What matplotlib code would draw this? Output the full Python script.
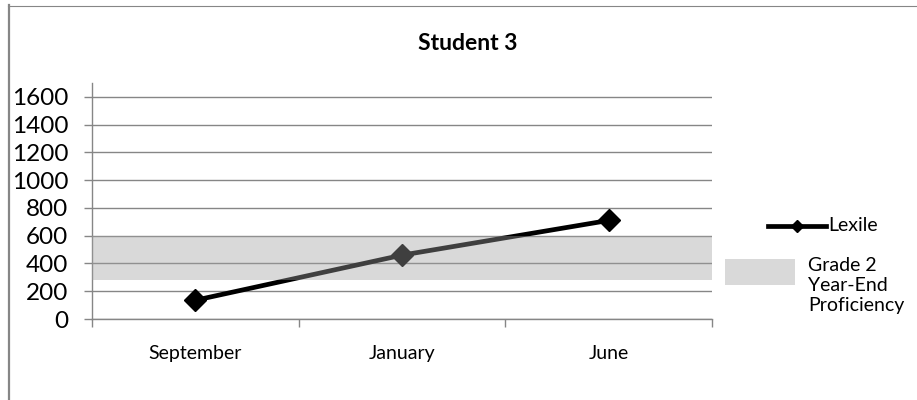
import matplotlib
matplotlib.use("Agg")
import matplotlib.pyplot as plt
from matplotlib.lines import Line2D
from matplotlib.patches import Rectangle

plt.rcParams['font.family'] = ['Lato', 'DejaVu Sans']

# Data
months = ["September", "January", "June"]
lexile = [135, 460, 710]
band_low = [280, 280, 280]
band_high = [600, 600, 600]
y_ticks = [0, 200, 400, 600, 800, 1000, 1200, 1400, 1600]

title = "Student 3"
lexile_label = "Lexile"
band_label = "Grade 2\nYear-End\nProficiency"

axis_gray = "#868686"

fig = plt.figure(figsize=(9.17, 4.0), dpi=100)
ax = fig.add_axes([92 / 917, 1 - 319 / 400, 620 / 917, 236 / 400])

x = list(range(len(months)))

# Lexile series
ax.plot(x, lexile, color="black", lw=3.4, marker="D", markersize=11,
        markerfacecolor="black", markeredgecolor="black", zorder=3,
        solid_joinstyle="round")

# Proficiency band stretched across the full category span
edge_x = [-0.5] + x + [len(months) - 0.5]
ax.fill_between(edge_x,
                [band_low[0]] + band_low + [band_low[-1]],
                [band_high[0]] + band_high + [band_high[-1]],
                color=(160 / 255, 160 / 255, 160 / 255), alpha=0.4,
                lw=0, zorder=4)

ax.set_xlim(-0.5, len(months) - 0.5)
ax.set_ylim(0, 1700)
ax.set_yticks(y_ticks)
ax.set_yticklabels([str(v) for v in y_ticks], fontsize=17.5)
ax.set_xticks([i - 0.5 for i in range(len(months) + 1)])
ax.set_xticklabels([])
ax.set_xticks(x, minor=True)
ax.set_xticklabels(months, minor=True, fontsize=14)
ax.tick_params(axis="x", which="minor", length=0, pad=19)
ax.tick_params(axis="x", which="major", length=6, width=1, color=axis_gray)
ax.tick_params(axis="y", length=6, width=1, color=axis_gray, pad=11)

ax.yaxis.grid(True, color=axis_gray, lw=1)
ax.set_axisbelow(True)
for s in ("top", "right"):
    ax.spines[s].set_visible(False)
for s in ("left", "bottom"):
    ax.spines[s].set_color(axis_gray)
    ax.spines[s].set_linewidth(1)

fig.text(468 / 917, 1 - 43 / 400, title, ha="center", va="center",
         fontsize=16.5, fontweight="bold")

# Legend drawn in figure coordinates
ly = 1 - 226 / 400
fig.add_artist(Line2D([768 / 917, 826 / 917], [ly, ly], color="black", lw=3.4,
                      transform=fig.transFigure))
fig.add_artist(Line2D([797 / 917], [ly], color="black", marker="D",
                      markersize=6, transform=fig.transFigure))
fig.text(828 / 917, ly, lexile_label, ha="left", va="center", fontsize=14)
fig.add_artist(Rectangle((725 / 917, 1 - 285 / 400), 70 / 917, 26 / 400,
                         transform=fig.transFigure, color="#d9d9d9", lw=0))
fig.text(808 / 917, 1 - 257 / 400, band_label, ha="left", va="top",
         fontsize=14, linespacing=1.2)

# Chart frame
fig.add_artist(Line2D([8.5 / 917, 8.5 / 917], [0, 1 - 5 / 400], color=axis_gray,
                      lw=1.6, transform=fig.transFigure))
fig.add_artist(Line2D([8 / 917, 1], [1 - 5.5 / 400, 1 - 5.5 / 400],
                      color=axis_gray, lw=0.8, transform=fig.transFigure))

fig.savefig("out.png", dpi=100)
